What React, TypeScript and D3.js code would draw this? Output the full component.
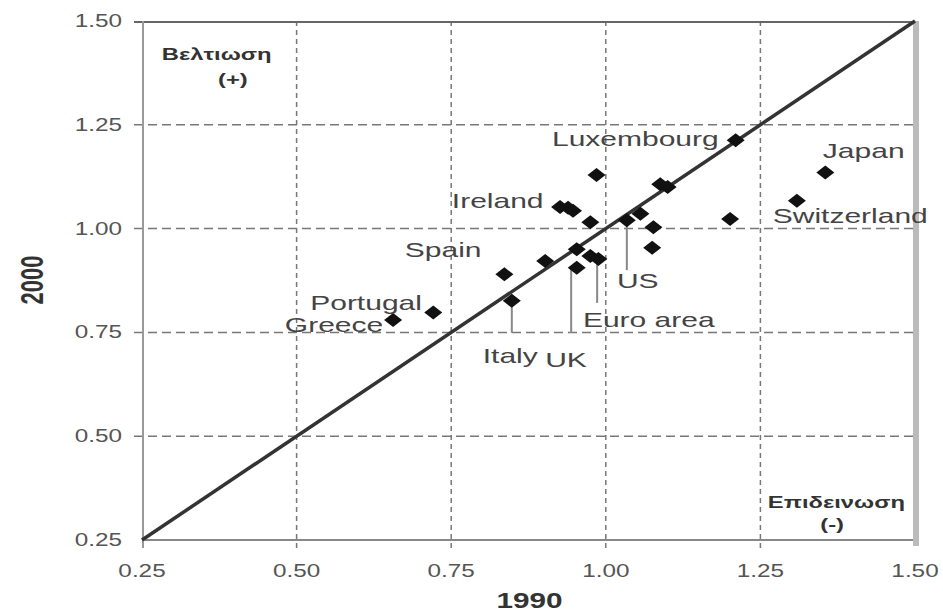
import { useRef, useEffect } from 'react';
import * as d3 from 'd3';

const W = 943;
const H = 613;
const FONT = '"Liberation Sans", Arial, sans-serif';
const SX = 1.5; // the source image is stretched horizontally

const TICKS = [0.25, 0.5, 0.75, 1.0, 1.25, 1.5];
const TICK_LABELS = ['0.25', '0.50', '0.75', '1.00', '1.25', '1.50'];

// [1990, 2000]
const POINTS: [number, number][] = [
  [0.656, 0.78], [0.721, 0.798], [0.848, 0.826], [0.836, 0.89],
  [0.902, 0.922], [0.953, 0.906], [0.953, 0.95], [0.975, 0.934],
  [0.988, 0.927], [0.975, 1.015], [0.926, 1.052], [0.939, 1.05],
  [0.947, 1.043], [0.985, 1.129], [1.034, 1.02], [1.056, 1.036],
  [1.077, 1.003], [1.075, 0.954], [1.088, 1.107], [1.1, 1.1],
  [1.21, 1.213], [1.201, 1.023], [1.309, 1.067], [1.355, 1.135],
];

const COUNTRY_LABELS = [
  { text: 'Luxembourg', x: 0.913, y: 1.199 },
  { text: 'Japan', x: 1.351, y: 1.17 },
  { text: 'Switzerland', x: 1.27, y: 1.013 },
  { text: 'Ireland', x: 0.751, y: 1.05 },
  { text: 'Spain', x: 0.675, y: 0.932 },
  { text: 'Portugal', x: 0.522, y: 0.804 },
  { text: 'Greece', x: 0.481, y: 0.751 },
  { text: 'Italy', x: 0.801, y: 0.676 },
  { text: 'UK', x: 0.902, y: 0.667 },
  { text: 'Euro area', x: 0.963, y: 0.763 },
  { text: 'US', x: 1.018, y: 0.857 },
];

const LEADERS = [
  { x: 0.848, y1: 0.811, y2: 0.749 },
  { x: 0.944, y1: 0.905, y2: 0.749 },
  { x: 0.986, y1: 0.924, y2: 0.821 },
  { x: 1.034, y1: 1.013, y2: 0.9 },
];

const CORNER_NOTES = [
  { text: 'Βελτιωση', x: 0.282, y: 1.406, anchor: 'start' },
  { text: '(+)', x: 0.397, y: 1.346, anchor: 'middle' },
  { text: 'Επιδεινωση', x: 1.262, y: 0.327, anchor: 'start' },
  { text: '(-)', x: 1.366, y: 0.274, anchor: 'middle' },
];

export default function App() {
  const svgRef = useRef<SVGSVGElement>(null);

  useEffect(() => {
    if (!svgRef.current) return;
    const svg = d3.select(svgRef.current);
    svg.selectAll('*').remove();

    const x = d3.scaleLinear().domain([0.25, 1.5]).range([142, 915]);
    const y = d3.scaleLinear().domain([0.25, 1.5]).range([540, 21]);
    const [x0, x1] = x.range();
    const [y0, y1] = y.range();

    svg.append('rect').attr('width', W).attr('height', H).attr('fill', '#fff');

    // horizontal dashed grid
    TICKS.slice(1, -1).forEach(t => {
      svg.append('line')
        .attr('x1', x0 - 8).attr('x2', x1 - 2).attr('y1', y(t)).attr('y2', y(t))
        .attr('stroke', '#777').attr('stroke-width', 1.5).attr('stroke-dasharray', '9,5');
    });
    // vertical dashed grid
    TICKS.slice(1, -1).forEach(t => {
      svg.append('line')
        .attr('x1', x(t)).attr('x2', x(t)).attr('y1', y1).attr('y2', y0 + 8)
        .attr('stroke', '#777').attr('stroke-width', 1.5).attr('stroke-dasharray', '5,4');
    });

    // frame
    svg.append('line').attr('x1', x0 - 8).attr('x2', x1).attr('y1', y1 + 1).attr('y2', y1 + 1)
      .attr('stroke', '#666').attr('stroke-width', 2);
    svg.append('line').attr('x1', x0).attr('x2', x1).attr('y1', y0).attr('y2', y0)
      .attr('stroke', '#888').attr('stroke-width', 2);
    svg.append('line').attr('x1', x0 + 1).attr('x2', x0 + 1).attr('y1', y1).attr('y2', y0 + 8)
      .attr('stroke', '#999').attr('stroke-width', 2);
    svg.append('line').attr('x1', x1 + 1).attr('x2', x1 + 1).attr('y1', y1).attr('y2', y0 + 6)
      .attr('stroke', '#bbb').attr('stroke-width', 6);

    // tick labels
    TICKS.forEach((t, i) => {
      svg.append('text')
        .attr('transform', `translate(122,${y(t) + 6}) scale(1.35,1)`)
        .attr('text-anchor', 'end').attr('fill', '#555')
        .style('font-family', FONT).style('font-size', '18px')
        .text(TICK_LABELS[i]);
      svg.append('text')
        .attr('transform', `translate(${x(t)},${577}) scale(1.35,1)`)
        .attr('text-anchor', 'middle').attr('fill', '#555')
        .style('font-family', FONT).style('font-size', '18px')
        .text(TICK_LABELS[i]);
    });

    // axis titles
    svg.append('text')
      .attr('transform', `translate(${(x0 + x1) / 2 + 1},608) scale(1.35,1)`)
      .attr('text-anchor', 'middle').attr('fill', '#333')
      .style('font-family', FONT).style('font-size', '22px').style('font-weight', 'bold')
      .text('1990');
    svg.append('text')
      .attr('transform', `translate(43,280) scale(1.4,1) rotate(-90)`)
      .attr('text-anchor', 'middle').attr('fill', '#333')
      .style('font-family', FONT).style('font-size', '22px').style('font-weight', 'bold')
      .text('2000');

    // 45 degree line
    svg.append('line')
      .attr('x1', x(0.25)).attr('y1', y(0.25)).attr('x2', x(1.5)).attr('y2', y(1.5))
      .attr('stroke', '#333').attr('stroke-width', 3.5);

    // leader lines
    LEADERS.forEach(l => {
      svg.append('line')
        .attr('x1', x(l.x)).attr('x2', x(l.x)).attr('y1', y(l.y1)).attr('y2', y(l.y2))
        .attr('stroke', '#888').attr('stroke-width', 2);
    });

    // markers
    svg.append('g').selectAll('path').data(POINTS).join('path')
      .attr('transform', d => `translate(${x(d[0])},${y(d[1])})`)
      .attr('d', 'M0,-7L9,0L0,7L-9,0Z')
      .attr('fill', '#111');

    // country labels
    COUNTRY_LABELS.forEach(l => {
      svg.append('text')
        .attr('transform', `translate(${x(l.x)},${y(l.y)}) scale(${SX},1)`)
        .attr('fill', '#444')
        .style('font-family', FONT).style('font-size', '20px')
        .text(l.text);
    });

    // corner notes
    CORNER_NOTES.forEach(n => {
      svg.append('text')
        .attr('transform', `translate(${x(n.x)},${y(n.y)}) scale(1.4,1)`)
        .attr('text-anchor', n.anchor).attr('fill', '#333')
        .style('font-family', FONT).style('font-size', '17px').style('font-weight', 'bold')
        .text(n.text);
    });
  }, []);

  return (
    <svg ref={svgRef} width={W} height={H}
      style={{ position: 'absolute', left: 0, top: 0, display: 'block' }} />
  );
}
